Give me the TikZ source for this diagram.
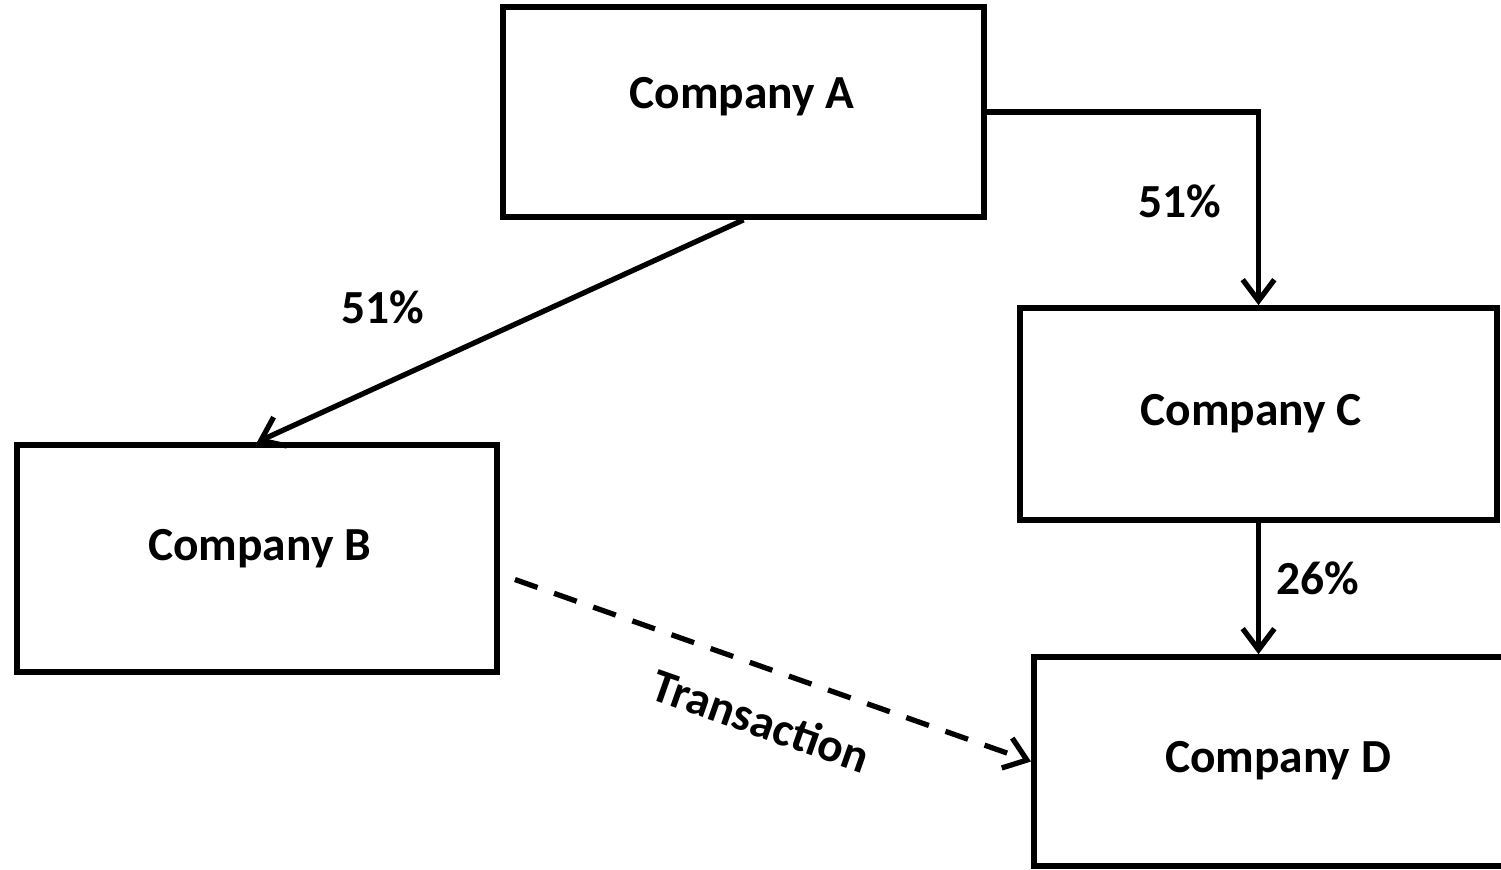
\documentclass[tikz,border=0pt]{standalone}
\usepackage{fontspec}
\setmainfont{Carlito}
\usetikzlibrary{arrows.meta}

\begin{document}
\begin{tikzpicture}[x=0.01cm,y=-0.01cm,line width=1.5pt,
  company/.style={draw,rectangle,line width=1.6pt},
  title/.style={font=\fontsize{13.5}{16}\selectfont\bfseries,inner sep=0pt},
  share/.style={-{Straight Barb[length=6pt,width=9pt]}},
  deal/.style={share,dash pattern=on 6.8pt off 5pt}]
  \path[use as bounding box,clip] (0,0) rectangle (1501,869);
  % the four companies
  \node[company,minimum width=4.81cm,minimum height=2.10cm] (A) at (743.5,112) {};
  \node[company,minimum width=4.80cm,minimum height=2.27cm] (B) at (257,558.5) {};
  \node[company,minimum width=4.77cm,minimum height=2.12cm] (C) at (1258.5,414) {};
  \node[company,minimum width=4.88cm,minimum height=2.09cm] (D) at (1278,761.5) {};
  \node[title] (Atxt) at (742,97) {Company A};
  \node[title] (Btxt) at (259.5,549) {Company B};
  \node[title] (Ctxt) at (1251,414) {Company C};
  \node[title] (Dtxt) at (1278,761) {Company D};
  % shares
  \draw[share] (A.south) -- (B.north);
  \draw[share] (A.east) -| (C.north);
  \draw[share] (C.south) -- (C.south |- D.north);
  \node[title] (ab) at (383,307) {51\%};
  \node[title] (ac) at (1180,201) {51\%};
  \node[title] (cd) at (1318,578) {26\%};
  % transaction
  \coordinate (Bout) at ([shift={(15,21)}]B.east);
  \draw[deal] (Bout) -- (D.west) node[title,sloped,below=9pt,pos=0.51] (tr) {Transaction};
\end{tikzpicture}
\end{document}
